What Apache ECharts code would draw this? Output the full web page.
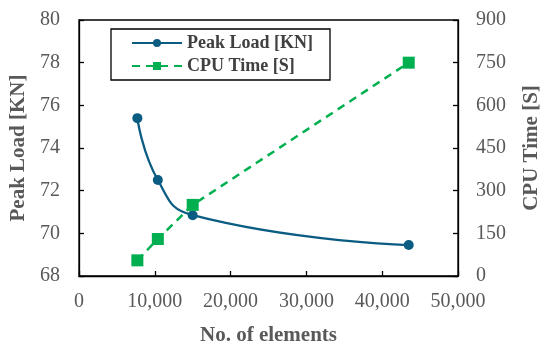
<!DOCTYPE html>
<html><head><meta charset="utf-8">
<script src="https://cdn.jsdelivr.net/npm/echarts@6/dist/echarts.min.js"></script>
<style>html,body{margin:0;padding:0;background:#fff}#c{width:550px;height:351px}</style>
</head><body><div id="c"></div>
<script>
const elements = [7700, 10400, 15000, 43500];
const peakLoad = [75.4, 72.5, 70.85, 69.45];
const cpuTime = [55, 130, 250, 750];
const xTicks = [0, 10000, 20000, 30000, 40000, 50000];

const font = 'Liberation Serif, Times New Roman, serif';
const chart = echarts.init(document.getElementById('c'));
const axisCommon = {
  axisLine: {show: true, lineStyle: {color: '#000', width: 1.3}},
  axisTick: {show: true, inside: true, length: 5, lineStyle: {color: '#000', width: 1.3}},
  splitLine: {show: false},
  axisLabel: {color: '#595959', fontFamily: font, fontSize: 20},
  nameTextStyle: {color: '#595959', fontFamily: font, fontSize: 21, fontWeight: 'bold'}
};
chart.setOption({
  animation: false,
  grid: {left: 79, right: 90, top: 20, bottom: 74, show: true, borderColor: '#000', borderWidth: 1.3},
  legend: {
    left: 111, top: 29,
    orient: 'vertical', itemGap: 5,
    borderColor: '#000', borderWidth: 1.3, padding: [5, 17, 5, 20],
    itemWidth: 50, itemHeight: 10,
    textStyle: {fontFamily: font, fontSize: 18, fontWeight: 'bold', color: '#404040'},
    data: ['Peak Load [KN]', 'CPU Time [S]']
  },
  xAxis: Object.assign({}, axisCommon, {
    type: 'value', min: 0, max: 50000, interval: 10000,
    name: 'No. of elements', nameLocation: 'middle', nameGap: 49,
    axisLabel: Object.assign({}, axisCommon.axisLabel, {margin: 16,
      formatter: v => v.toLocaleString('en-US')})
  }),
  yAxis: [
    Object.assign({}, axisCommon, {
      type: 'value', min: 68, max: 80, interval: 2, position: 'left',
      name: 'Peak Load [KN]', nameLocation: 'middle', nameGap: 47, nameRotate: 90,
      axisLabel: Object.assign({}, axisCommon.axisLabel, {margin: 19})
    }),
    Object.assign({}, axisCommon, {
      type: 'value', min: 0, max: 900, interval: 150, position: 'right',
      name: 'CPU Time [S]', nameLocation: 'middle', nameGap: 63, nameRotate: 90,
      axisLabel: Object.assign({}, axisCommon.axisLabel, {margin: 18})
    })
  ],
  series: [
    {
      name: 'Peak Load [KN]', type: 'line', yAxisIndex: 0, smooth: 0.5,
      data: elements.map((x, i) => [x, peakLoad[i]]),
      symbol: 'circle', symbolSize: 10,
      lineStyle: {color: '#0a5c82', width: 2.3},
      itemStyle: {color: '#0a5c82'}
    },
    {
      name: 'CPU Time [S]', type: 'line', yAxisIndex: 1,
      data: elements.map((x, i) => [x, cpuTime[i]]),
      symbol: 'rect', symbolSize: 12,
      lineStyle: {color: '#00b050', width: 2.5, type: [8, 6]},
      itemStyle: {color: '#00b050'}
    }
  ]
});
</script></body></html>
